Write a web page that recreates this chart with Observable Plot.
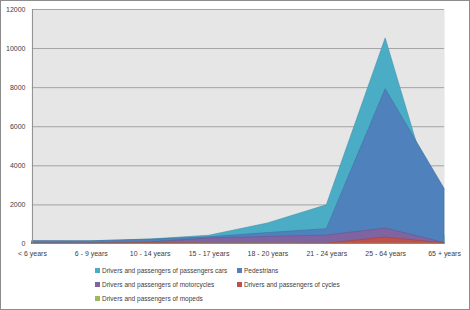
<!DOCTYPE html>
<html>
<head>
<meta charset="utf-8">
<script src="https://cdn.jsdelivr.net/npm/d3@7"></script>
<script src="https://cdn.jsdelivr.net/npm/@observablehq/plot@0.6"></script>
<style>
  html, body { margin: 0; padding: 0; background: #fff; }
  #wrap { position: relative; width: 470px; height: 310px; box-sizing: border-box; border: 1px solid #8c8c8c; overflow: hidden; font-family: "Liberation Sans", Arial, sans-serif; }
  #chart { position: absolute; left: -1px; top: -1px; }
  .leg { position: absolute; font-size: 6.5px; color: #404040; white-space: nowrap; line-height: 8px; }
  .sw { display: inline-block; width: 5px; height: 5px; margin-right: 2px; vertical-align: 0px; }
</style>
</head>
<body>
<div id="wrap"><div id="chart"></div></div>
<script>
const ages = ["< 6 years","6 - 9 years","10 - 14 years","15 - 17 years","18 - 20 years","21 - 24 years","25 - 64 years","65 + years"];
const cars        = [100, 130, 230, 420, 1050, 1980, 10520, 400];
const pedestrians = [150, 140, 220, 340, 560, 760, 7920, 2820];
const motorcycles = [20, 30, 80, 280, 360, 430, 790, 50];
const cycles      = [20, 20, 50, 20, 20, 20, 330, 30];
const mopeds      = [10, 10, 20, 20, 20, 10, 20, 10];
const seriesNames = ["Drivers and passengers of passengers cars","Pedestrians","Drivers and passengers of motorcycles","Drivers and passengers of cycles","Drivers and passengers of mopeds"];
const seriesValues = [cars, pedestrians, motorcycles, cycles, mopeds];
const colors = ["#4BACC6","#4F81BD","#8064A2","#C0504D","#9BBB59"];
const strokes = ["#3f93aa","#42709f","#6c5488","#a5413e","#839f4b"];
const yTicks = [0, 2000, 4000, 6000, 8000, 10000, 12000];

const marks = [
  Plot.frame({fill: "#e6e6e6", stroke: null}),
  Plot.ruleY(yTicks.filter(d => d > 0), {stroke: "#a3a3a3", strokeWidth: 1})
];
seriesValues.forEach((vals, i) => {
  const rows = ages.map((a, j) => ({age: a, v: vals[j]}));
  marks.push(Plot.area(rows, {x1: "age", y1: 0, y2: "v", fill: colors[i], stroke: strokes[i], strokeWidth: 0.6, curve: "linear"}));
});
marks.push(Plot.ruleX([ages[0]], {stroke: "#8c8c8c"}));

const chart = Plot.plot({
  width: 470,
  height: 262,
  marginLeft: 32,
  marginRight: 25,
  marginTop: 9,
  marginBottom: 18,
  style: {fontFamily: "Liberation Sans, Arial, sans-serif", fontSize: "7px", color: "#404040", background: "transparent"},
  x: {type: "point", domain: ages, padding: 0, tickSize: 0, tickPadding: 7, label: null},
  y: {domain: [0, 12000], ticks: yTicks, tickSize: 0, tickPadding: 7, label: null, tickFormat: d => String(d)},
  marks
});
document.getElementById("chart").appendChild(chart);

const wrap = document.getElementById("wrap");
const pos = [[95, 267],[237, 267],[95, 281],[237, 281],[95, 295]];
seriesNames.forEach((name, i) => {
  const el = document.createElement("div");
  el.className = "leg";
  el.style.left = (pos[i][0] - 1) + "px";
  el.style.top = (pos[i][1] - 1) + "px";
  el.innerHTML = `<span class="sw" style="background:${colors[i]}"></span>${name}`;
  wrap.appendChild(el);
});
</script>
</body>
</html>
